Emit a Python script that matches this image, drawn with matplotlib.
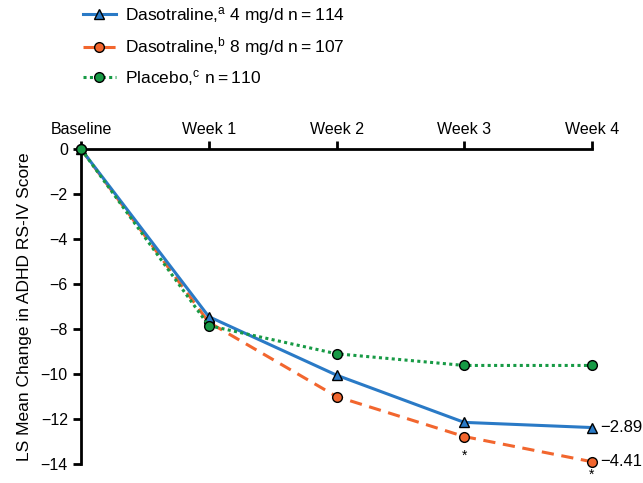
import matplotlib
matplotlib.use("Agg")
import matplotlib.pyplot as plt
from matplotlib import font_manager

names = {f.name for f in font_manager.fontManager.ttflist}
main = 'Liberation Sans Narrow' if 'Liberation Sans Narrow' in names else 'Liberation Sans'
plt.rcParams['font.family'] = [main, 'DejaVu Sans']
plt.rcParams['mathtext.fontset'] = 'custom'
plt.rcParams['mathtext.rm'] = main
plt.rcParams['mathtext.it'] = main

categories = ["Baseline", "Week 1", "Week 2", "Week 3", "Week 4"]
dasot4 = [0, -7.45, -10.05, -12.15, -12.38]
dasot8 = [0, -7.7, -11.0, -12.78, -13.9]
placebo = [0, -7.85, -9.1, -9.62, -9.62]
diff_labels = ["\u22122.89", "\u22124.41"]
sig_weeks = [3, 4]
yticks = [0, -2, -4, -6, -8, -10, -12, -14]

blue = "#2a7ac6"
orange = "#f2662e"
green = "#179a45"

fig = plt.figure(figsize=(6.43, 4.83), dpi=100)
ax = fig.add_axes([81/643, 1-464/483, (592-81)/643, (464-149)/483])
x = list(range(len(categories)))

l1, = ax.plot(x, dasot4, color=blue, lw=2.2, ls='-', marker='^', ms=7.5,
              mfc=blue, mec='black', mew=1.0, clip_on=False, zorder=5)
l2, = ax.plot(x, dasot8, color=orange, lw=2.2, ls=(0, (4, 2.5)), marker='o', ms=7,
              mfc=orange, mec='black', mew=1.0, clip_on=False, zorder=4)
l3, = ax.plot(x, placebo, color=green, lw=2.2, ls=(0, (1, 1.1)), marker='o', ms=7,
              mfc=green, mec='black', mew=1.0, clip_on=False, zorder=6)

ax.set_xlim(0, 4)
ax.set_ylim(-14, 0)
ax.set_xticks(x)
ax.set_xticklabels(categories)
ax.xaxis.tick_top()
ax.set_yticks(yticks)
ax.set_yticklabels([str(v).replace('-', '\u2212') for v in yticks])
ax.tick_params(axis='both', labelsize=11.5, width=2, length=6, direction='out', color='black')
ax.tick_params(axis='x', pad=3)
for s in ['right', 'bottom']:
    ax.spines[s].set_visible(False)
for s in ['top', 'left']:
    ax.spines[s].set_linewidth(2)
    ax.spines[s].set_color('black')
ax.set_ylabel("LS Mean Change in ADHD RS-IV Score", fontsize=12.5, labelpad=6)

ax.annotate(diff_labels[0], (4, dasot4[4]), xytext=(6, 0), textcoords='offset points',
            va='center', ha='left', fontsize=12, annotation_clip=False)
ax.annotate(diff_labels[1], (4, dasot8[4]), xytext=(6, 0), textcoords='offset points',
            va='center', ha='left', fontsize=12, annotation_clip=False)
for w in sig_weeks:
    off = -17 if w < 4 else -12
    ax.annotate("*", (w, dasot8[w]), xytext=(0, off), textcoords='offset points',
                va='baseline', ha='center', fontsize=10, annotation_clip=False)

labels = ["Dasotraline,$^{\\mathrm{a}}$ 4 mg/d n\u2009=\u2009114",
          "Dasotraline,$^{\\mathrm{b}}$ 8 mg/d n\u2009=\u2009107",
          "Placebo,$^{\\mathrm{c}}$ n\u2009=\u2009110"]
fig.legend([l1, l2, l3], labels, loc='upper left', bbox_to_anchor=(83/643, 1-5/483),
           frameon=False, fontsize=12.5, handlelength=1.9, handletextpad=0.5,
           labelspacing=0.55, borderpad=0, borderaxespad=0)

fig.savefig("out.png", dpi=100)
